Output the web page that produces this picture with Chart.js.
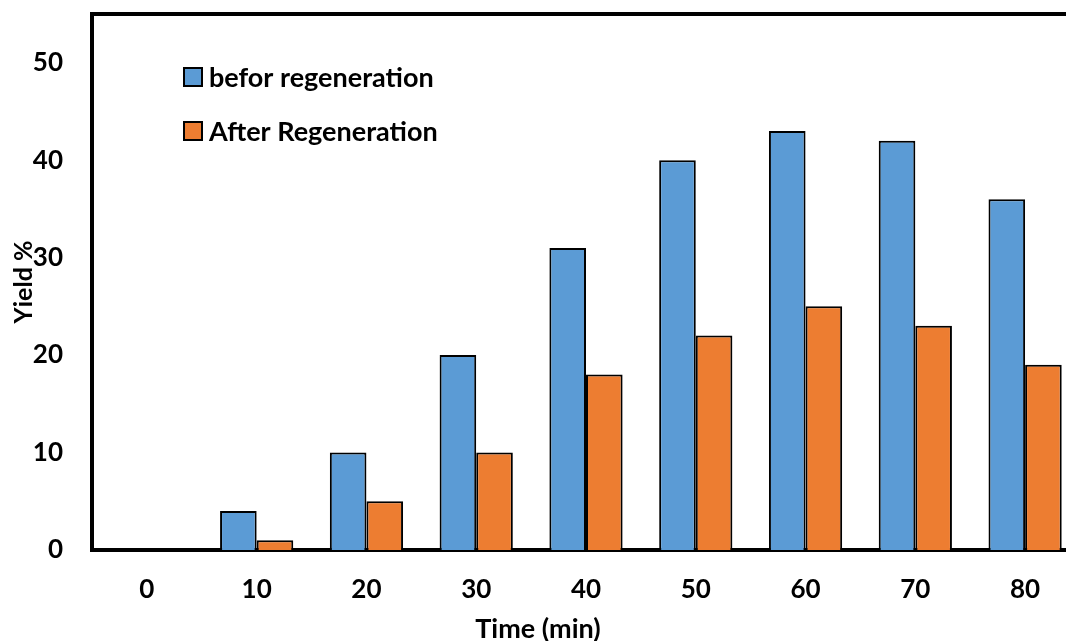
<!DOCTYPE html>
<html>
<head>
<meta charset="utf-8">
<script src="https://cdn.jsdelivr.net/npm/chart.js@4"></script>
<style>
  html, body { margin: 0; padding: 0; background: #fff; overflow: hidden; }
  #wrap { width: 1080px; height: 641px; }
</style>
</head>
<body>
<div id="wrap"><canvas id="chart" width="1080" height="641"></canvas></div>
<script>
// --- Data ---
const times = ['0', '10', '20', '30', '40', '50', '60', '70', '80'];
const beforeRegen = [0, 4, 10, 20, 31, 40, 43, 42, 36];
const afterRegen = [0, 1, 5, 10, 18, 22, 25, 23, 19];
const seriesLabels = ['befor regeneration', 'After Regeneration'];
const yTitle = 'Yield %';
const xTitle = 'Time (min)';

const FONT = "Lato, 'Open Sans', sans-serif";

// legend + top frame + x title, drawn by hand to sit where the original has them
const extras = {
  id: 'extras',
  afterDraw(chart) {
    const { ctx, chartArea } = chart;
    ctx.save();
    // top frame line
    ctx.strokeStyle = '#000';
    ctx.lineWidth = 4;
    ctx.beginPath();
    ctx.moveTo(chartArea.left - 2, chartArea.top);
    ctx.lineTo(chart.width, chartArea.top);
    ctx.stroke();

    // legend
    ctx.font = `bold 27px ${FONT}`;
    ctx.textBaseline = 'middle';
    ctx.textAlign = 'left';
    chart.data.datasets.forEach((ds, i) => {
      const y = 77 + i * 54;
      ctx.fillStyle = ds.backgroundColor;
      ctx.fillRect(184, y - 9, 18, 18);
      ctx.lineWidth = 2;
      ctx.strokeStyle = '#000';
      ctx.strokeRect(184, y - 9, 18, 18);
      ctx.fillStyle = '#000';
      ctx.fillText(ds.label, 209, y + 1);
    });

    // x axis title
    ctx.font = `bold 27px ${FONT}`;
    ctx.textAlign = 'center';
    ctx.fillText(xTitle, 538, 629);
    ctx.restore();
  }
};

new Chart(document.getElementById('chart'), {
  type: 'bar',
  data: {
    labels: times,
    datasets: [
      {
        label: seriesLabels[0],
        data: beforeRegen,
        backgroundColor: '#5B9BD5',
        borderColor: '#000',
        borderWidth: 2,
      },
      {
        label: seriesLabels[1],
        data: afterRegen,
        backgroundColor: '#ED7D31',
        borderColor: '#000',
        borderWidth: 2,
      },
    ],
  },
  options: {
    responsive: false,
    animation: false,
    layout: { padding: { top: 14, right: 0, left: 0, bottom: 0 } },
    categoryPercentage: 0.667,
    barPercentage: 1,
    plugins: {
      legend: { display: false },
      tooltip: { enabled: false },
    },
    scales: {
      x: {
        grid: { display: false, drawTicks: false },
        border: { color: '#000', width: 4 },
        ticks: {
          color: '#000',
          padding: 24,
          font: { family: FONT, size: 26, weight: 'bold' },
        },
        afterFit: s => { s.height = 91; },
      },
      y: {
        min: 0,
        max: 55,
        grid: { display: false, drawTicks: false },
        border: { color: '#000', width: 4 },
        ticks: {
          stepSize: 10,
          color: '#000',
          padding: 29,
          font: { family: FONT, size: 26, weight: 'bold' },
        },
        afterBuildTicks: s => { s.ticks = s.ticks.filter(t => t.value <= 50); },
        title: {
          display: true,
          text: yTitle,
          color: '#000',
          padding: { top: 9, bottom: 0 },
          font: { family: FONT, size: 25, weight: 'bold' },
        },
        afterFit: s => { s.width = 92; s.paddingTop = 0; },
      },
    },
  },
  plugins: [extras],
});
</script>
</body>
</html>
